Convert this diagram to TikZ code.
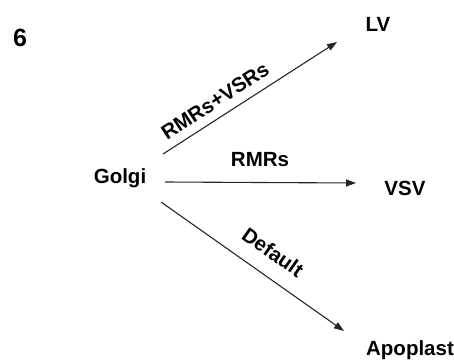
\documentclass[tikz,border=0pt]{standalone}
\usepackage{fontspec}
\setmainfont{Liberation Sans}
\usetikzlibrary{arrows.meta}
\begin{document}
\begin{tikzpicture}[x=1pt,y=-1pt,
  lbl/.style={font=\fontsize{20.5}{24}\selectfont\bfseries, inner sep=0pt},
  conn/.style={line width=1.1pt, draw=black!85, -{Triangle[length=10pt,width=7pt]}}]
\useasboundingbox (0,0) rectangle (454,361);
\node[lbl, font=\fontsize{25}{28}\selectfont\bfseries] (six) at (20,38) {6};
\node[lbl] (LV) at (378,24) {LV};
\node[lbl] (Golgi) at (120,178) {Golgi};
\node[lbl] (VSV) at (405,188) {VSV};
\node[lbl] (Apo) at (410,350) {Apoplast};
\coordinate (a1s) at (163,154);
\coordinate (a1e) at (337,42);
\coordinate (a2s) at (165,182);
\coordinate (a2e) at (356,183);
\coordinate (a3s) at (161,202);
\coordinate (a3e) at (344,331);
\draw[conn] (a1s) -- (a1e);
\draw[conn] (a2s) -- (a2e);
\draw[conn] (a3s) -- (a3e);
\node[lbl, rotate=33] (l1) at (215,101) {RMRs+VSRs};
\node[lbl] (l2) at (260,160) {RMRs};
\node[lbl, rotate=-35] (l3) at (273,252) {Default};
\end{tikzpicture}
\end{document}
